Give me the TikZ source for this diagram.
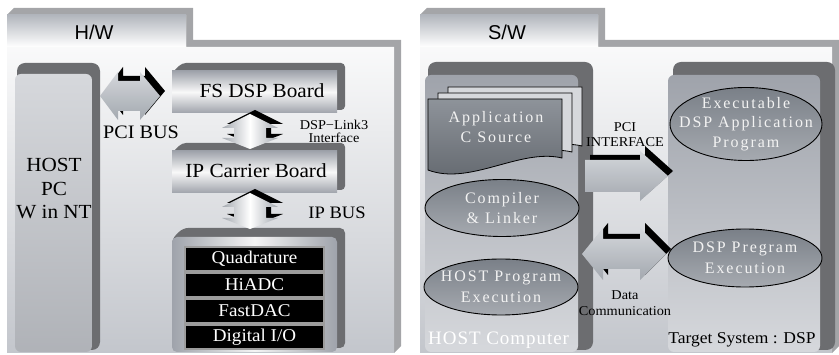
\documentclass[tikz,border=0pt]{standalone}
\usepackage{fontspec}
\setmainfont{Liberation Serif}[FakeStretch=1.06]
\newfontfamily\tabfont{Liberation Sans}
\newfontfamily\spfont{Liberation Serif}[LetterSpace=12]
\newfontfamily\spfontb{Liberation Serif}[LetterSpace=5]
\usetikzlibrary{calc,shapes.geometric}
\definecolor{pshadow}{HTML}{A4A5A8}
\definecolor{dkshadow}{HTML}{6C6D70}
\definecolor{pbot}{HTML}{C3C6CC}
\definecolor{tabtop}{HTML}{B2B6BD}
\definecolor{boxtop}{HTML}{9FA3AB}
\definecolor{boxbot}{HTML}{D6D8DC}
\definecolor{ellA}{HTML}{7A8088}
\definecolor{ellB}{HTML}{A6AAB0}
\definecolor{arrA}{HTML}{D4D7DB}
\definecolor{arrB}{HTML}{A3A8AF}
\definecolor{rowedge}{HTML}{9C9C9C}
\definecolor{eltxt}{HTML}{F2F2F2}
\tikzset{
  boardtxt/.style={font=\fontsize{20}{22}\selectfont},
  hosttxt/.style={font=\fontsize{20}{23.5}\selectfont, align=center},
  smalltxt/.style={font=\fontsize{13.5}{13}\selectfont, align=center, inner sep=1pt},
  bustxt/.style={font=\fontsize{19}{20}\selectfont},
  tabtxt/.style={font=\tabfont\fontsize{20}{22}\selectfont},
  rowbox/.style={fill=black, draw=rowedge, line width=1.6pt, minimum width=139pt, minimum height=24.5pt, inner sep=0pt, text=white, font=\fontsize{18}{19}\selectfont},
  ellbox/.style={ellipse, top color=ellA, bottom color=ellB, draw=black, line width=0.9pt},
  eltext/.style={text=eltxt, font=\spfont\fontsize{16}{20.5}\selectfont, align=center},
  arrshade/.style={top color=arrA, bottom color=arrB},
  varrshade/.style={left color=arrB, right color=arrB, middle color=white},
}
\begin{document}
\begin{tikzpicture}[x=1pt,y=-1pt]
\useasboundingbox (0,0) rectangle (839,355);
% ================= LEFT PANEL =================
\fill[pshadow] (14,8) -- (193,8) -- (193,40) -- (401,40) -- (401,346) -- (394,353) -- (7,353) -- (7,15) -- cycle;
\shade[top color=white, bottom color=pbot] (7,15) -- (186,15) -- (186,47) -- (394,47) -- (394,353) -- (7,353) -- cycle;
\shade[top color=tabtop, bottom color=white] (7,15) rectangle (186,47);
\node[tabtxt] (hw) at (94,32) {H/W};
% HOST PC
\fill[dkshadow, rounded corners=8] (17,63) rectangle (100,350);
\shade[top color=boxbot, bottom color=pbot!90!black, rounded corners=6] (15,74) rectangle (92,352);
\node[hosttxt] (hostpc) at (54,189) {HOST\\PC\\W in NT};
% FS DSP board
\fill[dkshadow, rounded corners=4] (182,63) -- (345,63) -- (345,110) -- (172,110) -- (172,73) -- cycle;
\shade[top color=boxtop, bottom color=boxtop, middle color=white!95!gray] (172,71) rectangle (337,113);
\node[boardtxt] (fsdsp) at (262,91) {FS DSP Board};
% IP carrier board
\fill[dkshadow, rounded corners=4] (182,143) -- (345,143) -- (345,190) -- (172,190) -- (172,153) -- cycle;
\shade[top color=boxtop, bottom color=boxtop, middle color=white!95!gray] (172,151) rectangle (337,193);
\node[boardtxt] (ipcarrier) at (256,171) {IP Carrier Board};
% module holder
\fill[dkshadow, rounded corners=5] (183,228) -- (345,228) -- (345,348) -- (172,348) -- (172,239) -- cycle;
\shade[left color=boxtop, right color=boxtop, middle color=white!92!gray, rounded corners=5] (172,237) rectangle (337,352);
\node[rowbox] (quad) at (254.5,259) {Quadrature};
\node[rowbox] (hiadc) at (254.5,285) {HiADC};
\node[rowbox] (fastdac) at (254.5,311) {FastDAC};
\node[rowbox] (dio) at (254.5,337) {Digital I/O};
% PCI BUS arrow
\fill[black, shift={(5,-5)}] (100,96) -- (118,72) -- (118,81) -- (140,81) -- (140,72) -- (160,96) -- (140,120) -- (140,111) -- (118,111) -- (118,120) -- cycle;
\shade[arrshade] (100,96) -- (118,72) -- (118,81) -- (140,81) -- (140,72) -- (160,96) -- (140,120) -- (140,111) -- (118,111) -- (118,120) -- cycle;
\node[bustxt] (pcibus) at (141,132) {PCI BUS};
% DSP-Link3 arrow
\fill[black, shift={(5,-4)}] (250,114) -- (278,128) -- (266,128) -- (266,138) -- (278,138) -- (250,149) -- (222,138) -- (234,138) -- (234,128) -- (222,128) -- cycle;
\shade[varrshade] (250,114) -- (278,128) -- (266,128) -- (266,138) -- (278,138) -- (250,149) -- (222,138) -- (234,138) -- (234,128) -- (222,128) -- cycle;
\node[smalltxt] (link) at (334,131) {DSP−Link3\\Interface};
% IP BUS arrow
\fill[black, shift={(5,-4)}] (250,193) -- (278,207) -- (266,207) -- (266,218) -- (278,218) -- (250,229) -- (222,218) -- (234,218) -- (234,207) -- (222,207) -- cycle;
\shade[varrshade] (250,193) -- (278,207) -- (266,207) -- (266,218) -- (278,218) -- (250,229) -- (222,218) -- (234,218) -- (234,207) -- (222,207) -- cycle;
\node[bustxt, font=\fontsize{17.5}{20}\selectfont] (ipbus) at (337,213) {IP BUS};
% ================= RIGHT PANEL =================
\fill[pshadow] (427,8) -- (605,8) -- (605,40) -- (839,40) -- (839,346) -- (832,353) -- (420,353) -- (420,15) -- cycle;
\shade[top color=white, bottom color=pbot] (420,15) -- (598,15) -- (598,47) -- (832,47) -- (832,353) -- (420,353) -- cycle;
\shade[top color=tabtop, bottom color=white] (420,15) rectangle (598,47);
\node[tabtxt] (sw) at (507,32) {S/W};
% HOST computer box
\fill[dkshadow, rounded corners=8] (428,62) rectangle (593,350);
\shade[top color=boxtop, bottom color=boxbot, rounded corners=6] (425,75) rectangle (578,352);
% target box
\fill[dkshadow, rounded corners=8] (673,62) rectangle (835,350);
\shade[top color=boxtop, bottom color=boxbot, rounded corners=6] (668,75) rectangle (820,352);
% documents
\filldraw[fill=boxbot, draw=black, line width=0.8pt] (448,87) -- (582,87) -- (582,146) .. controls (540,136) and (490,174) .. (448,158) -- cycle;
\filldraw[fill=boxbot, draw=black, line width=0.8pt] (438,93) -- (572,93) -- (572,152) .. controls (530,142) and (480,180) .. (438,164) -- cycle;
\shade[top color=ellA!85!white, bottom color=ellA!80!black] (428,99) -- (562,99) -- (562,158) .. controls (520,148) and (470,186) .. (428,170) -- cycle;
\draw[black, line width=0.8pt] (428,99) -- (562,99) -- (562,158) .. controls (520,148) and (470,186) .. (428,170) -- cycle;
\node[eltext] (appsrc) at (496,127) {Application\\C Source};
% ellipses
\node[ellbox, minimum width=154pt, minimum height=57pt] (compiler) at (502,208) {};
\node[eltext] (compilertxt) at (compiler) {Compiler\\\&~Linker};
\node[ellbox, minimum width=154pt, minimum height=56pt] (hostexec) at (501,287) {};
\node[eltext] (hostexectxt) at (hostexec) {HOST Program\\Execution};
\node[ellbox, minimum width=152pt, minimum height=73pt] (exe) at (746,124) {};
\node[eltext, font=\spfont\fontsize{16}{19.5}\selectfont] (exetxt) at (exe) {Executable\\DSP Application\\Program};
\node[ellbox, minimum width=154pt, minimum height=58pt] (dspexec) at (745,258) {};
\node[eltext] (dspexectxt) at (dspexec) {DSP Pregram\\Execution};
\node[font=\spfontb\fontsize{19}{22}\selectfont, text=white, anchor=base west, inner sep=0pt] (hostcomp) at (428,345) {HOST Computer};
\node[font=\fontsize{16.5}{20}\selectfont, anchor=base] (target) at (742,344) {Target System : DSP};
% PCI INTERFACE arrow
\fill[black, shift={(5,-5)}] (585,160) -- (640,160) -- (640,151) -- (668,176) -- (640,201) -- (640,192) -- (585,192) -- cycle;
\shade[arrshade] (585,160) -- (640,160) -- (640,151) -- (668,176) -- (640,201) -- (640,192) -- (585,192) -- cycle;
\node[smalltxt, font=\fontsize{13.5}{15}\selectfont] (pciif) at (625,135) {PCI\\INTERFACE};
% Data communication arrow
\fill[black, shift={(5,-5)}] (582,254) -- (603,228) -- (603,239) -- (640,239) -- (640,228) -- (666,254) -- (640,280) -- (640,269) -- (603,269) -- (603,280) -- cycle;
\shade[arrshade] (582,254) -- (603,228) -- (603,239) -- (640,239) -- (640,228) -- (666,254) -- (640,280) -- (640,269) -- (603,269) -- (603,280) -- cycle;
\node[smalltxt, font=\fontsize{13.5}{16.5}\selectfont] (datacomm) at (625,303) {Data\\Communication};
\end{tikzpicture}
\end{document}
